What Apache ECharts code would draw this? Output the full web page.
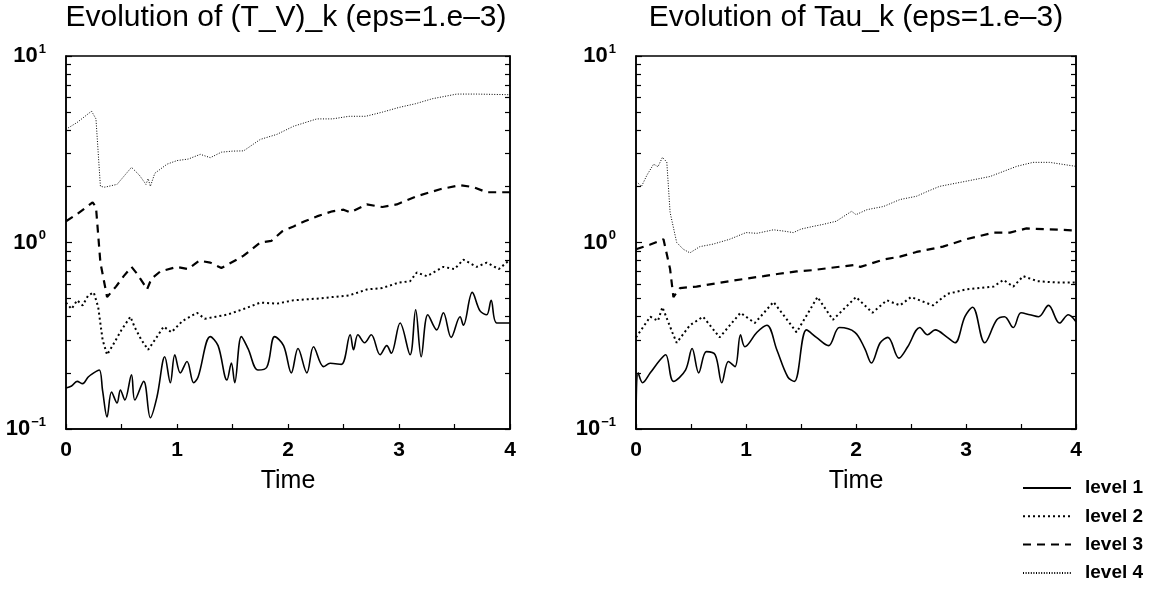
<!DOCTYPE html>
<html>
<head>
<meta charset="utf-8">
<script src="https://cdn.jsdelivr.net/npm/echarts@6/dist/echarts.min.js"></script>
<style>
html,body{margin:0;padding:0;background:#fff;}
#c{width:1168px;height:589px;}
</style>
</head>
<body>
<div id="c"></div>
<script>
// ---- data: [time, value] ----
const titles = ['Evolution of (T_V)_k (eps=1.e\u20133)', 'Evolution of Tau_k (eps=1.e\u20133)'];
const levelNames = ['level 1', 'level 2', 'level 3', 'level 4'];
const xTicks = [0, 1, 2, 3, 4];
const yDecades = [0.1, 1, 10];

// Left panel: (T_V)_k
const tvLevel1 = [[0,0.166],[0.05,0.17],[0.1,0.18],[0.15,0.175],[0.2,0.19],[0.25,0.2],[0.3,0.207],[0.33,0.16],[0.37,0.116],[0.41,0.158],[0.46,0.138],[0.49,0.162],[0.53,0.143],[0.59,0.195],[0.62,0.143],[0.7,0.18],[0.76,0.115],[0.82,0.149],[0.89,0.244],[0.94,0.177],[0.98,0.25],[1.03,0.2],[1.09,0.23],[1.15,0.177],[1.19,0.19],[1.3,0.313],[1.37,0.28],[1.45,0.183],[1.49,0.226],[1.52,0.177],[1.58,0.313],[1.64,0.27],[1.73,0.207],[1.81,0.215],[1.88,0.313],[1.96,0.28],[2.03,0.2],[2.09,0.27],[2.17,0.2],[2.23,0.276],[2.32,0.216],[2.38,0.225],[2.48,0.222],[2.56,0.32],[2.59,0.266],[2.63,0.32],[2.69,0.29],[2.75,0.32],[2.83,0.25],[2.89,0.28],[2.93,0.255],[3.01,0.37],[3.1,0.25],[3.15,0.436],[3.2,0.244],[3.26,0.41],[3.34,0.34],[3.4,0.42],[3.47,0.31],[3.55,0.4],[3.58,0.36],[3.66,0.54],[3.73,0.43],[3.79,0.41],[3.83,0.49],[3.88,0.37],[4.0,0.37]];
const tvLevel2 = [[0,0.476],[0.05,0.44],[0.1,0.49],[0.15,0.46],[0.2,0.52],[0.25,0.54],[0.29,0.45],[0.33,0.3],[0.37,0.25],[0.42,0.28],[0.5,0.34],[0.58,0.4],[0.62,0.35],[0.68,0.3],[0.74,0.266],[0.8,0.3],[0.88,0.354],[0.95,0.33],[1.05,0.38],[1.18,0.42],[1.25,0.39],[1.35,0.4],[1.45,0.41],[1.6,0.44],[1.75,0.476],[1.9,0.47],[2.05,0.49],[2.26,0.5],[2.4,0.51],[2.55,0.52],[2.71,0.56],[2.85,0.57],[3.0,0.61],[3.1,0.62],[3.16,0.69],[3.25,0.66],[3.4,0.74],[3.5,0.72],[3.58,0.81],[3.7,0.74],[3.79,0.78],[3.9,0.72],[4.0,0.81]];
const tvLevel3 = [[0,1.3],[0.1,1.42],[0.24,1.64],[0.27,1.55],[0.31,0.78],[0.37,0.51],[0.45,0.58],[0.52,0.66],[0.59,0.74],[0.64,0.68],[0.7,0.6],[0.73,0.56],[0.77,0.64],[0.85,0.7],[1.0,0.74],[1.1,0.72],[1.2,0.8],[1.3,0.78],[1.4,0.73],[1.54,0.81],[1.6,0.85],[1.75,1.0],[1.85,1.02],[1.95,1.15],[2.05,1.22],[2.15,1.3],[2.26,1.38],[2.4,1.47],[2.5,1.5],[2.56,1.45],[2.71,1.6],[2.85,1.55],[2.98,1.6],[3.16,1.77],[3.37,1.93],[3.55,2.03],[3.67,1.98],[3.79,1.86],[4.0,1.86]];
const tvLevel4 = [[0,4.05],[0.1,4.4],[0.23,5.06],[0.27,4.6],[0.31,2.0],[0.35,1.98],[0.46,2.05],[0.59,2.53],[0.66,2.3],[0.72,2.05],[0.74,2.2],[0.76,2.0],[0.8,2.35],[0.91,2.63],[1.0,2.75],[1.1,2.8],[1.21,2.97],[1.3,2.85],[1.4,3.05],[1.5,3.09],[1.6,3.1],[1.75,3.57],[1.9,3.8],[2.05,4.2],[2.26,4.6],[2.4,4.6],[2.55,4.75],[2.7,4.75],[2.85,5.0],[3.0,5.3],[3.15,5.55],[3.3,5.9],[3.52,6.25],[3.7,6.25],[4.0,6.2]];

// Right panel: Tau_k
const tauLevel1 = [[0,0.1],[0.02,0.2],[0.06,0.177],[0.13,0.2],[0.22,0.235],[0.27,0.25],[0.34,0.18],[0.45,0.207],[0.51,0.27],[0.57,0.2],[0.64,0.26],[0.72,0.25],[0.78,0.177],[0.84,0.23],[0.9,0.216],[0.95,0.32],[0.99,0.276],[1.1,0.33],[1.19,0.36],[1.28,0.266],[1.38,0.19],[1.44,0.18],[1.55,0.34],[1.64,0.31],[1.75,0.28],[1.85,0.35],[1.99,0.33],[2.08,0.27],[2.14,0.226],[2.22,0.29],[2.29,0.31],[2.39,0.24],[2.47,0.276],[2.58,0.35],[2.65,0.32],[2.72,0.34],[2.83,0.31],[2.9,0.29],[2.99,0.4],[3.06,0.45],[3.17,0.29],[3.28,0.385],[3.35,0.4],[3.43,0.35],[3.5,0.42],[3.58,0.41],[3.66,0.4],[3.75,0.46],[3.85,0.37],[3.93,0.41],[4.0,0.376]];
const tauLevel2 = [[0,0.31],[0.13,0.4],[0.2,0.38],[0.24,0.45],[0.33,0.33],[0.37,0.29],[0.49,0.36],[0.61,0.4],[0.76,0.31],[0.95,0.42],[1.08,0.37],[1.25,0.48],[1.46,0.33],[1.65,0.51],[1.79,0.385],[2.0,0.51],[2.15,0.42],[2.28,0.49],[2.4,0.46],[2.5,0.51],[2.7,0.46],[2.83,0.53],[3.0,0.56],[3.25,0.58],[3.34,0.63],[3.43,0.58],[3.52,0.66],[3.65,0.62],[3.83,0.61],[4.0,0.61]];
const tauLevel3 = [[0,0.92],[0.13,0.975],[0.25,1.04],[0.31,0.72],[0.34,0.51],[0.4,0.57],[0.55,0.58],[0.7,0.6],[0.85,0.62],[1.0,0.64],[1.16,0.66],[1.3,0.68],[1.46,0.7],[1.6,0.71],[1.76,0.73],[2.0,0.76],[2.04,0.74],[2.25,0.81],[2.4,0.84],[2.55,0.89],[2.79,0.95],[3.0,1.04],[3.25,1.13],[3.4,1.13],[3.55,1.19],[4.0,1.16]];
const tauLevel4 = [[0,2.13],[0.05,2.0],[0.1,2.3],[0.16,2.63],[0.2,2.55],[0.24,2.86],[0.28,2.7],[0.31,1.45],[0.37,1.0],[0.43,0.92],[0.49,0.88],[0.58,0.95],[0.7,0.98],[0.85,1.04],[1.0,1.13],[1.1,1.12],[1.25,1.17],[1.35,1.15],[1.43,1.13],[1.5,1.18],[1.61,1.22],[1.7,1.25],[1.82,1.3],[1.96,1.47],[2.0,1.41],[2.1,1.5],[2.25,1.56],[2.4,1.7],[2.55,1.77],[2.65,1.88],[2.76,2.0],[3.0,2.13],[3.22,2.26],[3.46,2.56],[3.61,2.69],[3.76,2.69],[4.0,2.56]];

// ---- build ----
const FONT = 'Liberation Sans';
const minorMultipliers = [2,3,4,5,6,7,8,9];
const minorLog = [];
for (const d of [-1, 0]) for (const m of minorMultipliers) minorLog.push(d + Math.log10(m));
const allLog = minorLog.concat([-1, 0, 1]);

const grids = [
  {left: 66, right: 1168 - 510, top: 56, bottom: 589 - 429, show: true, borderColor: '#000', borderWidth: 1.5, backgroundColor: 'transparent'},
  {left: 636, right: 1168 - 1076, top: 56, bottom: 589 - 429, show: true, borderColor: '#000', borderWidth: 1.5, backgroundColor: 'transparent'}
];

const xAxes = [0, 1].map(g => ({
  type: 'value', gridIndex: g, min: xTicks[0], max: xTicks[xTicks.length - 1], interval: 1,
  position: 'bottom',
  name: 'Time', nameLocation: 'middle', nameGap: 40,
  nameTextStyle: {fontFamily: FONT, fontSize: 25, color: '#000'},
  axisLine: {show: true, onZero: false, lineStyle: {color: '#000', width: 1.5}},
  axisTick: {show: true, inside: true, length: 5, lineStyle: {color: '#000', width: 1.2}},
  minorTick: {show: true, splitNumber: 2, length: 5, lineStyle: {color: '#000', width: 1.2}},
  axisLabel: {fontFamily: FONT, fontSize: 21, fontWeight: 'bold', color: '#000', margin: 11},
  splitLine: {show: false}
}));

const supLabel = v => {
  const e = Math.round(Math.log10(v));
  return '{b|10}{s|' + (e < 0 ? '\u2212' + (-e) : e) + '}';
};

const yAxes = [];
[0, 1].forEach(g => {
  yAxes.push({
    type: 'log', logBase: 10, gridIndex: g, min: yDecades[0], max: yDecades[yDecades.length - 1],
    position: 'left',
    axisLine: {show: true, onZero: false, lineStyle: {color: '#000', width: 1.5}},
    axisTick: {show: true, inside: true, length: 6, lineStyle: {color: '#000', width: 1.2}},
    axisLabel: {
      formatter: supLabel, margin: 20,
      rich: {
        b: {fontFamily: FONT, fontSize: 22, fontWeight: 'bold', color: '#000'},
        s: {fontFamily: FONT, fontSize: 13, fontWeight: 'bold', color: '#000', padding: [0, 0, 14, 1]}
      }
    },
    splitLine: {show: false}
  });
  yAxes.push({
    type: 'value', gridIndex: g, min: -1, max: 1, position: 'left',
    axisLine: {show: false, onZero: false},
    axisTick: {show: true, inside: true, length: 5, customValues: minorLog, lineStyle: {color: '#000', width: 1.2}},
    axisLabel: {show: false},
    splitLine: {show: false}
  });
  yAxes.push({
    type: 'value', gridIndex: g, min: -1, max: 1, position: 'right',
    axisLine: {show: true, onZero: false, lineStyle: {color: '#000', width: 1.5}},
    axisTick: {show: true, inside: true, length: 5, customValues: allLog, lineStyle: {color: '#000', width: 1.2}},
    axisLabel: {show: false},
    splitLine: {show: false}
  });
});

const styles = [
  {type: 'solid', width: 1.6},
  {type: [2, 3], width: 2},
  {type: [8, 6], width: 2.2},
  {type: [1, 1.6], width: 1}
];
const panelData = [
  [tvLevel1, tvLevel2, tvLevel3, tvLevel4],
  [tauLevel1, tauLevel2, tauLevel3, tauLevel4]
];
const series = [];
panelData.forEach((arr, g) => {
  arr.forEach((d, i) => {
    series.push({
      type: 'line', name: levelNames[i], xAxisIndex: g, yAxisIndex: g * 3,
      data: d, symbol: 'none', showSymbol: false, smooth: i === 0 ? 0.35 : false,
      lineStyle: Object.assign({color: '#000'}, styles[i]),
      itemStyle: {color: '#000'}
    });
  });
});

const chart = echarts.init(document.getElementById('c'), null, {renderer: 'canvas'});
chart.setOption({
  animation: false,
  backgroundColor: '#fff',
  title: titles.map((t, i) => ({
    text: t, left: i === 0 ? 281 : 851, top: -2, textAlign: 'center',
    textStyle: {fontFamily: FONT, fontSize: 30, fontWeight: 'normal', color: '#000'}
  })),
  legend: {
    orient: 'vertical', left: 1022, top: 478, height: 110, padding: 0, data: levelNames,
    itemWidth: 48, itemHeight: 14, itemGap: 8.3,
    itemStyle: {color: 'transparent', borderWidth: 0, opacity: 0},
    textStyle: {fontFamily: FONT, fontSize: 19, fontWeight: 'bold', color: '#000', lineHeight: 20, padding: [0, 0, 0, 9]}
  },
  grid: grids,
  xAxis: xAxes,
  yAxis: yAxes,
  series: series
});
</script>
</body>
</html>
